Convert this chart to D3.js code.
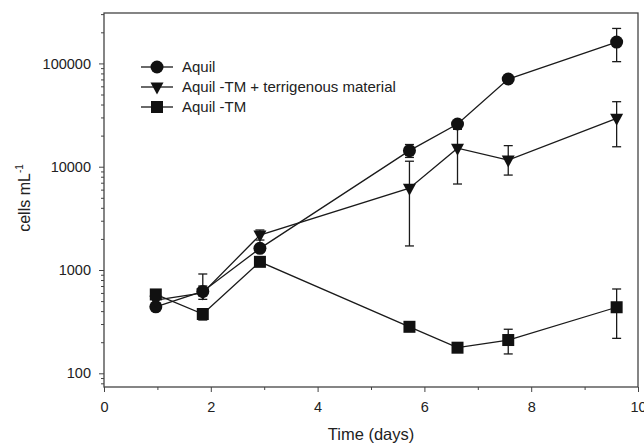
<!DOCTYPE html>
<html>
<head>
<meta charset="utf-8">
<script src="https://cdn.jsdelivr.net/npm/d3@7"></script>
<style>
  body { margin: 0; background: #fff; }
  text { font-family: "Liberation Sans", Arial, sans-serif; fill: #222; }
</style>
</head>
<body>
<div id="chart"></div>
<script>
// sampling days
var days = [0.97, 1.85, 2.92, 5.72, 6.62, 7.57, 9.6];

// cell counts (cells per mL) and error limits
var aquil      = [440, 620, 1620, 14300, 25900, 70600, 161000];
var aquilHi    = [460, 915, 1750, 16400, 27000, 73000, 218000];
var aquilLo    = [420, 560, 1500, 12300, 24800, 68000, 104000];

var terr       = [510, 600, 2180, 6200, 15100, 11600, 29400];
var terrHi     = [540, 700, 2440, 11300, 23000, 16000, 42600];
var terrLo     = [480, 520, 1950, 1710, 6800, 8300, 15600];

var noTM       = [580, 375, 1200, 282, 177, 210, 436];
var noTMHi     = [620, 420, 1280, 300, 185, 267, 655];
var noTMLo     = [540, 328, 1120, 265, 168, 154, 218];

var seriesNames = ["Aquil", "Aquil -TM + terrigenous material", "Aquil -TM"];
var xTicks = [0, 2, 4, 6, 8, 10];
var yTicks = [100, 1000, 10000, 100000];

var margin = { top: 13, right: 6, bottom: 59, left: 104 },
    width = 644 - margin.left - margin.right,
    height = 446 - margin.top - margin.bottom;

var x = d3.scaleLinear().domain([0, 10]).range([0, width]);
var y = d3.scaleLog().domain([73.7, 307600]).range([height, 0]);

var svg = d3.select("#chart").append("svg")
    .attr("width", 644)
    .attr("height", 446)
    .append("g")
    .attr("transform", "translate(" + margin.left + "," + margin.top + ")");

// build series
function build(vals, hi, lo) {
    return days.map(function (d, i) {
        return { day: d, v: vals[i], hi: hi[i], lo: lo[i] };
    });
}
var series = [
    { name: seriesNames[0], shape: "circle", data: build(aquil, aquilHi, aquilLo) },
    { name: seriesNames[1], shape: "triangle", data: build(terr, terrHi, terrLo) },
    { name: seriesNames[2], shape: "square", data: build(noTM, noTMHi, noTMLo) }
];

// axes (ticks outside, left and bottom only)
var minorY = [];
[10, 100, 1000, 10000, 100000].forEach(function (dec) {
    for (var k = 2; k <= 9; k++) {
        var v = dec * k;
        if (v > 73.7 && v < 307600) minorY.push(v);
    }
});

svg.append("g")
    .call(d3.axisLeft(y).tickValues(yTicks).tickFormat(d3.format("d")).tickSize(5).tickPadding(8));
svg.append("g")
    .call(d3.axisLeft(y).tickValues(minorY).tickFormat("").tickSize(3));

svg.append("g")
    .attr("transform", "translate(0," + height + ")")
    .call(d3.axisBottom(x).tickValues(xTicks).tickFormat(d3.format("d")).tickSize(5).tickPadding(10));
svg.append("g")
    .attr("transform", "translate(0," + height + ")")
    .call(d3.axisBottom(x).tickValues([1, 3, 5, 7, 9]).tickFormat("").tickSize(3));

svg.selectAll(".domain").remove();
svg.selectAll(".tick line").attr("stroke", "#444").attr("stroke-width", 1);
svg.selectAll(".tick text").style("font-size", "14.5px")
    .style("font-family", "'Liberation Sans', Arial, sans-serif").attr("fill", "#222");

// frame
svg.append("rect")
    .attr("width", width)
    .attr("height", height)
    .attr("fill", "none")
    .attr("stroke", "#444")
    .attr("stroke-width", 1.3);

// axis titles
svg.append("text")
    .attr("x", width / 2)
    .attr("y", height + 53)
    .attr("text-anchor", "middle")
    .style("font-size", "16.5px")
    .text("Time (days)");

var yl = svg.append("text")
    .attr("transform", "translate(" + (-74) + "," + (height / 2 - 2) + ") rotate(-90)")
    .attr("text-anchor", "middle")
    .style("font-size", "16px");
yl.append("tspan").text("cells mL");
yl.append("tspan").attr("dy", "-7").style("font-size", "10px").text("-1");

// marker drawing
var triPath = "M-6.5,-4.5L6.5,-4.5L0,7.5Z";
function drawMarker(g, shape) {
    if (shape === "circle") {
        g.append("circle").attr("r", 6.5).attr("fill", "#111");
    } else if (shape === "square") {
        g.append("rect").attr("x", -6).attr("y", -6).attr("width", 12).attr("height", 12).attr("fill", "#111");
    } else {
        g.append("path").attr("d", triPath).attr("fill", "#111");
    }
}

var line = d3.line()
    .x(function (d) { return x(d.day); })
    .y(function (d) { return y(d.v); });

series.forEach(function (s) {
    svg.append("path")
        .datum(s.data)
        .attr("fill", "none")
        .attr("stroke", "#1a1a1a")
        .attr("stroke-width", 1.3)
        .attr("d", line);
});

series.forEach(function (s) {
    var eb = svg.append("g").attr("stroke", "#1a1a1a").attr("stroke-width", 1.3);
    s.data.forEach(function (d) {
        var cx = x(d.day);
        eb.append("line").attr("x1", cx).attr("x2", cx).attr("y1", y(d.hi)).attr("y2", y(d.lo));
        eb.append("line").attr("x1", cx - 4.5).attr("x2", cx + 4.5).attr("y1", y(d.hi)).attr("y2", y(d.hi));
        eb.append("line").attr("x1", cx - 4.5).attr("x2", cx + 4.5).attr("y1", y(d.lo)).attr("y2", y(d.lo));
    });
});

series.forEach(function (s) {
    s.data.forEach(function (d) {
        var g = svg.append("g").attr("transform", "translate(" + x(d.day) + "," + y(d.v) + ")");
        drawMarker(g, s.shape);
    });
});

// legend
var legend = svg.append("g").attr("transform", "translate(" + (157 - margin.left) + "," + (67 - margin.top) + ")");
series.forEach(function (s, i) {
    var row = legend.append("g").attr("transform", "translate(0," + (i * 20) + ")");
    row.append("line").attr("x1", -16).attr("x2", 16).attr("stroke", "#1a1a1a").attr("stroke-width", 1.3);
    drawMarker(row, s.shape);
    row.append("text")
        .attr("x", 25)
        .attr("dy", "0.35em")
        .style("font-size", "15px")
        .text(s.name);
});
</script>
</body>
</html>
